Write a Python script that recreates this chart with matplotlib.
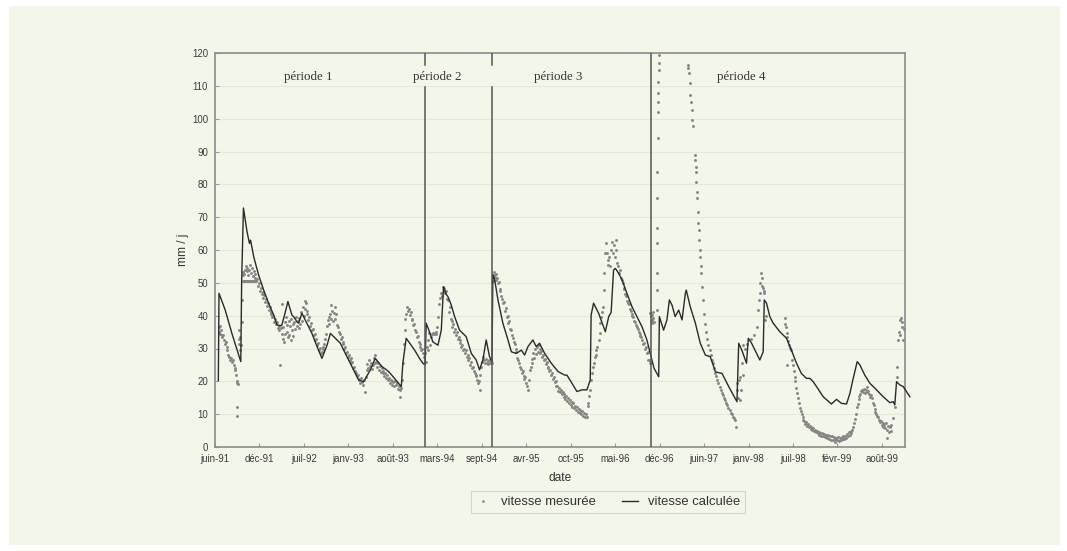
import matplotlib.pyplot as plt
import matplotlib.patches as mpatches
import numpy as np

# jours comptés depuis le 12 juin 1991 (origine de l'axe)
debut = np.datetime64('1991-06-12')

# vitesse mesurée (jour, mm/j), par période
mesure_p1 = [
    (18, 36.6), (20, 35), (22, 37), (24, 34.5), (27, 35.6), (30, 34), (33, 33.5), (36, 34.2),
    (40, 32.5), (44, 31.5), (48, 32), (52, 30.5), (56, 29.5), (60, 28), (64, 27.4), (68, 26.6),
    (72, 27), (76, 25.8), (80, 26.4), (84, 24.9), (88, 24), (92, 23.4), (95, 21.8), (98, 20),
    (101, 19.5), (104, 19.3), (98, 12.2), (99, 9.5), (106, 33), (108, 35.6), (110, 31.5),
    (112, 33.5), (114, 29.5), (118, 31), (121, 38), (123, 44.7), (125, 50.5), (126, 52.3),
    (128, 53.2), (130, 52.8),
    (132, 50.5), (136, 50.5), (140, 50.5), (144, 50.5), (148, 50.5), (152, 50.5), (156, 50.5),
    (160, 50.5), (164, 50.5), (168, 50.6), (172, 50.5), (176, 50.5), (180, 50.6),
    (134, 54), (138, 55), (142, 53.5), (146, 54.5), (150, 52.5), (154, 53.8), (158, 55.5),
    (162, 53), (166, 54.6), (170, 52.2), (174, 53.5), (178, 51.5), (182, 52.8), (186, 50.5),
    (190, 51.2), (194, 49), (198, 49.8), (202, 47.5), (206, 48.5), (210, 46.5), (214, 47.2),
    (218, 45.5), (222, 46.2), (226, 44.2), (230, 45), (234, 43), (238, 43.8), (242, 41.8),
    (246, 42.5), (250, 40.5), (254, 41.2), (258, 39.5), (262, 40), (266, 38.2), (270, 39),
    (274, 37.5), (278, 38), (282, 36.2), (286, 37), (290, 35.5), (294, 25), (296, 36.2),
    (300, 34.5),
    (303, 43.7), (304, 33), (307, 36.5), (310, 32), (313, 38), (316, 34.5), (319, 39.5),
    (322, 35), (325, 37.2), (328, 33.5), (331, 38.5), (334, 34), (337, 36.8), (340, 32.5),
    (343, 39), (346, 35.5), (349, 37.5), (352, 33.8), (356, 38.2), (360, 36), (364, 39.5),
    (368, 37), (372, 38.5), (376, 36.2), (380, 39.2), (384, 37.5), (388, 41), (392, 38.5),
    (396, 42.5), (400, 40), (403, 44.5), (406, 42), (410, 43.8), (413, 40.5), (416, 41.5),
    (420, 38.8),
    (424, 39.5), (428, 37), (432, 37.8), (436, 35.5), (440, 36), (444, 34), (448, 34.5),
    (452, 32.5), (456, 33), (460, 31), (464, 31.8), (468, 29.5), (472, 30.2), (476, 28.5),
    (480, 29), (484, 30.5), (488, 29.8), (492, 31.5), (496, 33), (500, 34.5), (504, 36.8),
    (508, 38.6), (512, 37.5), (515, 39.6), (518, 40.5), (520, 43.2), (523, 39), (526, 41.5),
    (530, 38.5), (534, 40.8), (538, 42.5), (542, 39), (546, 40.5), (550, 37.2), (554, 36.5),
    (558, 35), (562, 34.5), (566, 33), (570, 33.5), (574, 31.5), (578, 32), (582, 30),
    (586, 30.5), (590, 28.5), (594, 29), (598, 27.5),
    (602, 28), (606, 26.5), (610, 27), (614, 25.5), (618, 25.8), (622, 24), (626, 24.5),
    (630, 23), (634, 22.5), (638, 21.5), (642, 21.8), (646, 20.5), (650, 20.8), (654, 19.5),
    (658, 21), (662, 19.8), (666, 18.8), (670, 20.5), (674, 16.9), (678, 21.3), (682, 23.5),
    (686, 25.4), (690, 24), (694, 26.4), (698, 24.8), (702, 25.6), (706, 23.8), (710, 25),
    (714, 27), (718, 25.5), (722, 28), (726, 26), (730, 24.5), (734, 25.5), (738, 23.5),
    (742, 24.6), (746, 22.8), (750, 24), (754, 22.4), (758, 23.2), (762, 21.5), (766, 22.5),
    (770, 21), (774, 21.8), (778, 20.3), (782, 21), (786, 19.5), (790, 20.5), (794, 18.8),
    (798, 20),
    (802, 19.8), (806, 18.5), (810, 20.2), (814, 18.8), (818, 19.5), (822, 17.8), (826, 18.5),
    (830, 17.3), (834, 15.2), (838, 18), (842, 20.3), (846, 25.5), (850, 31.5), (853, 35.6),
    (856, 39), (860, 40.5), (864, 42.7), (868, 41.5), (872, 42), (876, 40.2), (880, 41.2),
    (884, 38.7), (888, 39), (892, 37.2), (896, 37.6), (900, 35.5), (904, 35.1), (908, 33.5),
    (912, 33.8), (916, 32), (920, 31.5), (924, 30.5), (928, 29.5), (932, 30), (936, 28.5),
    (940, 27.5), (944, 28.5), (948, 26),
]

mesure_p2 = [
    (952, 30.6), (956, 32.5), (960, 29.5), (964, 34.6), (968, 31), (972, 33.6), (976, 34.5),
    (980, 34.6), (984, 34.5), (988, 34.6), (992, 34.5), (996, 35), (1000, 36.5), (1004, 39.7),
    (1008, 43.5), (1012, 45.5), (1016, 47), (1020, 46), (1024, 48.8), (1028, 47.5),
    (1032, 48.5), (1036, 46.8), (1040, 47.5), (1044, 45), (1048, 44.8), (1052, 41),
    (1056, 42.5), (1060, 39), (1064, 38.5), (1068, 36.5), (1072, 37.5), (1076, 35), (1080, 36),
    (1084, 34), (1088, 35), (1092, 33), (1096, 33.5), (1100, 31.6), (1104, 32.5), (1108, 30.5),
    (1112, 31), (1116, 29.5), (1120, 30), (1124, 28.5), (1128, 29.5), (1132, 27.5), (1136, 28),
    (1140, 26.5), (1144, 27), (1148, 25), (1152, 25.8), (1156, 24), (1160, 24.5), (1164, 23),
    (1168, 22.4), (1172, 21.5), (1176, 22), (1180, 20.5), (1184, 19.5), (1188, 20),
    (1190, 17.4), (1194, 22), (1198, 24.5), (1202, 26), (1206, 27.5), (1210, 26.5),
    (1214, 25.5), (1218, 26.8), (1222, 25.6), (1226, 26.2), (1230, 25.4), (1234, 26.5),
    (1238, 25.5), (1242, 26.3), (1246, 25.5),
]

mesure_p3 = [
    (1250, 50.5), (1254, 52.5), (1257, 53.4), (1260, 51.8), (1263, 52.6), (1266, 50.9),
    (1269, 51.5), (1272, 49.8), (1276, 50.2), (1280, 48), (1284, 47.5), (1288, 46),
    (1292, 45.2), (1296, 43.8), (1300, 44.2), (1304, 41.5), (1308, 42.2), (1312, 39.5),
    (1316, 40), (1320, 37.7), (1324, 38.3), (1328, 36), (1332, 35.5), (1336, 34), (1340, 33.2),
    (1344, 32), (1348, 31.5), (1352, 30), (1356, 28.8), (1360, 27), (1364, 26.5), (1368, 25.5),
    (1372, 24.5), (1376, 23.8), (1380, 22.5), (1384, 23), (1388, 21.5), (1392, 20.8),
    (1396, 21.2), (1400, 19.5), (1404, 18.5), (1408, 17.4), (1412, 20.5), (1416, 23.5),
    (1420, 24.5), (1424, 26.8), (1428, 25.5), (1432, 28.5), (1436, 27), (1440, 29.8),
    (1444, 28.2), (1448, 30.5), (1452, 29), (1456, 31.2), (1460, 30), (1464, 28.5),
    (1468, 29.2), (1472, 27.5), (1476, 28), (1480, 26.5), (1484, 26.8), (1488, 25.2),
    (1492, 25.8), (1496, 24), (1500, 24.5), (1504, 23), (1508, 23.5), (1512, 21.8),
    (1516, 22.4), (1520, 20.6), (1524, 21.2), (1528, 19.8), (1532, 20.2), (1536, 18.5),
    (1540, 18.5), (1544, 17.2), (1548, 18), (1552, 16.8), (1556, 17.5), (1560, 16),
    (1564, 16.8), (1568, 15.2), (1572, 16), (1576, 14.5), (1580, 15.5), (1584, 14),
    (1588, 14.8), (1592, 13.5), (1596, 14.2), (1600, 12.8), (1604, 13.8), (1608, 12.2),
    (1612, 13.3), (1616, 11.8), (1620, 12.6), (1624, 11.2), (1628, 12.2), (1632, 10.8),
    (1636, 11.6), (1640, 10.4), (1644, 11.2), (1648, 10), (1652, 11), (1656, 9.5),
    (1660, 10.5), (1664, 9.2), (1668, 10.2), (1672, 9), (1676, 12.5), (1680, 13.3),
    (1684, 15.5), (1688, 17.4), (1692, 20.4), (1696, 22.5), (1700, 24.5), (1704, 25.5),
    (1708, 27.5), (1712, 28), (1716, 29.5), (1720, 30.5), (1726, 32.5), (1730, 34.6),
    (1734, 37.7), (1738, 39.5), (1742, 41), (1746, 42.7), (1749, 47.8), (1752, 52.9),
    (1755, 59), (1758, 62), (1762, 59), (1766, 57), (1770, 55.5), (1774, 58), (1778, 55),
    (1782, 60), (1786, 62.5), (1790, 59), (1794, 61.5), (1798, 58), (1802, 63), (1806, 60),
    (1810, 56), (1814, 55), (1818, 53), (1822, 54), (1826, 51.5), (1830, 51), (1834, 49.8),
    (1838, 48.5), (1842, 48), (1846, 46.5), (1850, 46), (1854, 44.5), (1858, 44),
    (1862, 43.5), (1866, 42), (1870, 41.5), (1874, 40.5), (1878, 40), (1882, 39.5),
    (1886, 38.5), (1890, 38), (1894, 37.2), (1898, 36.5), (1902, 35.8), (1906, 35),
    (1910, 34.5), (1914, 33.8), (1918, 33.5), (1922, 32.5), (1926, 31.5), (1930, 31.8),
    (1934, 30), (1938, 30.5), (1942, 28.5), (1946, 29), (1950, 26.5), (1954, 26.5),
    (1956, 25.5),
]

mesure_p4 = [
    (1958, 40.7), (1960, 38.5), (1962, 39.8), (1964, 37.7), (1966, 40.2), (1968, 38.8),
    (1970, 41), (1972, 39.2), (1975, 38),
    (1988, 41.7), (1988, 47.8), (1988, 52.9), (1989, 62), (1989, 66.6), (1989, 75.7),
    (1990, 83.9), (1991, 94), (1992, 102.1), (1993, 105.1), (1994, 107.8), (1995, 111.3),
    (1996, 114.8), (1997, 117), (1998, 119.4),
    (2127, 116.4), (2129, 115.3), (2131, 113.8), (2135, 110.8), (2139, 107.2), (2142, 105.2),
    (2145, 102.6), (2148, 99.6), (2150, 97.8), (2158, 88.9), (2160, 87.4), (2162, 85.4),
    (2164, 83.9), (2166, 80.8), (2168, 77.8), (2170, 75.7), (2172, 71.7), (2174, 68.2),
    (2176, 66.1), (2178, 63), (2180, 60), (2182, 58), (2185, 55), (2188, 52.9), (2192, 48.8),
    (2196, 44.8), (2200, 40.5), (2205, 37.5), (2210, 35), (2215, 33), (2220, 31), (2225, 29.5),
    (2230, 28), (2235, 26.5), (2240, 25.5), (2245, 24), (2250, 22.5), (2255, 21.5),
    (2260, 20.5), (2265, 19.5), (2270, 18.2), (2275, 17.5), (2280, 16.5), (2285, 15.8),
    (2290, 15), (2295, 14.3), (2300, 13.5), (2305, 12.8), (2310, 12), (2315, 11.3),
    (2320, 10.5), (2325, 10), (2330, 9.2), (2335, 8.8), (2340, 8.2), (2345, 6.2),
    (2347, 17.3), (2350, 19.4), (2353, 15), (2356, 20.5), (2360, 14.3), (2363, 21.4),
    (2366, 17.5), (2370, 25.5), (2374, 22), (2377, 31), (2385, 30), (2395, 31.5), (2410, 33),
    (2425, 34), (2440, 36.6), (2444, 41.7), (2447, 44.8), (2450, 47), (2453, 50),
    (2456, 52.9), (2459, 49), (2462, 51.5), (2465, 48.5), (2468, 46.8), (2471, 47.5),
    (2474, 38.7), (2478, 40),
    (2563, 39.2), (2566, 37.5), (2569, 36.6), (2571, 34.6), (2572, 25), (2575, 33.5),
    (2579, 32.2), (2583, 31), (2587, 30.2), (2591, 29.5), (2595, 26.5), (2599, 25),
    (2603, 23), (2607, 21.4), (2611, 20), (2615, 18), (2619, 16.5), (2623, 15), (2627, 13.3),
    (2631, 12), (2635, 11), (2639, 10), (2643, 9.2), (2647, 8.2), (2651, 7.8), (2655, 7),
    (2659, 7.5), (2663, 6.5), (2667, 7), (2671, 6), (2675, 6.5), (2679, 5.5), (2683, 6),
    (2687, 5.2), (2691, 5.8), (2695, 4.8), (2699, 5.2), (2703, 4.5), (2707, 5), (2711, 4.2),
    (2715, 4.6), (2719, 3.8), (2723, 4.4), (2727, 3.5), (2731, 4.2), (2735, 3.3), (2739, 4),
    (2743, 3.1), (2747, 3.8), (2751, 3.5), (2755, 2.8), (2759, 3.6), (2763, 2.5),
    (2767, 3.4), (2771, 2.2), (2775, 3.2), (2779, 2), (2783, 3), (2787, 2.4), (2791, 1.6),
    (2795, 2.8), (2799, 2.2), (2803, 3), (2807, 1.8), (2811, 2.6), (2815, 2), (2819, 3),
    (2823, 2.4), (2827, 3.2), (2831, 2.5), (2835, 3.5), (2839, 2.8), (2843, 4), (2847, 3.2),
    (2851, 4.5), (2855, 3.8), (2859, 5), (2863, 4.2), (2867, 5.2), (2871, 6), (2875, 7.2),
    (2879, 8.5), (2883, 10), (2887, 12.3), (2891, 13), (2895, 14.5), (2899, 15.5),
    (2903, 16), (2907, 17), (2911, 17.4), (2915, 16.8), (2919, 17.8), (2923, 16.5),
    (2927, 17.5), (2931, 18.4), (2935, 16.8), (2939, 17), (2943, 16), (2947, 15.3),
    (2951, 15.8), (2955, 14.8), (2959, 13.3), (2963, 12.8), (2967, 11.5), (2971, 10.8),
    (2975, 10), (2979, 9.5), (2983, 9.2), (2987, 8.2), (2991, 7.5), (2995, 7.8), (2999, 6.8),
    (3003, 7.2), (3007, 6.2), (3011, 6.8), (3015, 5.8), (3019, 7.2), (3021, 2.6), (3023, 5.2),
    (3027, 6.5), (3031, 4.7), (3035, 6), (3039, 5), (3043, 6.8), (3049, 8.7), (3058, 12.3),
    (3066, 21.4), (3070, 24.5), (3073, 32.6), (3076, 35), (3080, 38.7), (3083, 34),
    (3086, 39.2), (3089, 36.5), (3092, 38), (3096, 32.6), (3100, 36),
]

# vitesse calculée (jour, mm/j)
calcul = [
    (15, 20.3), (18, 46.8), (46, 41.7), (76, 34.6), (116, 26), (120, 50.9), (128, 72.8),
    (144, 65.6), (155, 62), (160, 63), (174, 58), (196, 52.4), (219, 47.8), (241, 43.8),
    (264, 40.2), (279, 37.2), (290, 37), (300, 37), (312, 40), (328, 44.3), (346, 40.2),
    (356, 39.5), (370, 38), (376, 37.7), (391, 40.7), (400, 39.5), (436, 34.6), (459, 30.6),
    (481, 27), (504, 31), (519, 34.6), (534, 33.6), (549, 32.6), (564, 31.6), (586, 28.5),
    (616, 24.5), (646, 20.4), (669, 19.9), (699, 23.5), (721, 27), (751, 24.5), (781, 23),
    (800, 21.5), (838, 18.4), (845, 25.5), (860, 33.1), (872, 32), (898, 29.5), (920, 27),
    (935, 25.5), (945, 25), (950, 37.7), (962, 35.6), (980, 32), (1003, 31), (1018, 35.6),
    (1028, 48.8), (1040, 46.5), (1048, 45.8), (1063, 43.2), (1078, 39.7), (1100, 35.6),
    (1130, 33.6), (1153, 28.5), (1175, 26.5), (1190, 23.5), (1205, 26.5), (1220, 32.6),
    (1235, 27.5), (1246, 26), (1250, 52.5), (1258, 51), (1273, 44.8), (1295, 37.7),
    (1318, 32.6), (1333, 29), (1355, 28.5), (1378, 29.5), (1393, 28), (1408, 30.6),
    (1430, 32.6), (1445, 30.6), (1460, 31.6), (1483, 28.5), (1513, 25.5), (1543, 23),
    (1573, 21.9), (1583, 21.9), (1606, 19.4), (1628, 16.9), (1651, 17.4), (1673, 17.4),
    (1688, 20.4), (1692, 40.2), (1703, 43.8), (1726, 40.7), (1756, 35.1), (1771, 39.7),
    (1782, 41), (1793, 53.9), (1801, 54.4), (1816, 52.9), (1831, 50.9), (1853, 46.8),
    (1876, 42.7), (1898, 39.7), (1921, 36.6), (1943, 32.6), (1958, 28.5), (1975, 24),
    (1996, 21.4), (1999, 39.7), (2018, 35.6), (2033, 38.7), (2044, 44.8), (2056, 43.2),
    (2070, 39.7), (2086, 41.7), (2101, 38.7), (2116, 46.8), (2120, 47.8), (2138, 42.7),
    (2161, 37.7), (2183, 31.6), (2206, 28), (2228, 27.5), (2251, 22.9), (2281, 22.4),
    (2311, 18.4), (2348, 13.8), (2356, 31.6), (2370, 29.5), (2391, 25.5), (2399, 33.1),
    (2414, 31.6), (2451, 26.5), (2466, 29), (2471, 44.8), (2481, 43.8), (2496, 39.7),
    (2511, 37.7), (2541, 35.1), (2571, 33.1), (2593, 29.5), (2616, 25.5), (2638, 22.4),
    (2661, 20.9), (2676, 20.9), (2691, 19.9), (2706, 18.4), (2736, 15.3), (2773, 13.1),
    (2796, 14.5), (2818, 13.3), (2841, 13.1), (2856, 16.3), (2871, 20.9), (2889, 26),
    (2901, 25), (2923, 21.9), (2946, 19.4), (2976, 17.4), (3006, 15.3), (3036, 13.5),
    (3051, 13.8), (3058, 12.8), (3066, 19.9), (3081, 18.9), (3096, 18.4), (3126, 15.3),
]

# limites des périodes (jour) et étiquettes
limites = [945, 1246, 1961]
periodes = ['période 1', 'période 2', 'période 3', 'période 4']
periodes_x = [418, 999, 1543, 2366]

# graduations de l'axe des dates : une tous les 200 jours
ticks_jours = [0, 200, 400, 600, 800, 1000, 1200, 1400, 1600, 1800, 2000, 2200, 2400, 2600,
               2800, 3000]
ticks_labels = ['juin-91', 'déc-91', 'juil-92', 'janv-93', 'août-93', 'mars-94', 'sept-94',
                'avr-95', 'oct-95', 'mai-96', 'déc-96', 'juin-97', 'janv-98', 'juil-98',
                'févr-99', 'août-99']

fond = '#f3f7ea'

mes = np.array(mesure_p1 + mesure_p2 + mesure_p3 + mesure_p4)
cal = np.array(calcul)
mes_dates = debut + mes[:, 0].astype(int).astype('timedelta64[D]')
cal_dates = debut + cal[:, 0].astype(int).astype('timedelta64[D]')

fig = plt.figure(figsize=(10.67, 5.51), dpi=100, facecolor='white')
fig.patches.append(mpatches.Rectangle((9 / 1067, 1 - 545 / 551), 1051 / 1067, 539 / 551,
                                      transform=fig.transFigure, facecolor=fond,
                                      edgecolor='none', zorder=-10))
ax = fig.add_axes([215 / 1067, 1 - 447 / 551, 690 / 1067, 394 / 551])
ax.set_facecolor(fond)

ax.plot(mes_dates, mes[:, 1], linestyle='none', marker='o', ms=2.1, mew=0,
        color='#858585', label='vitesse mesurée', zorder=2)
ax.plot(cal_dates, cal[:, 1], color='#2a2a2a', lw=1.0, label='vitesse calculée',
        zorder=3, clip_on=False)

# lignes de séparation des périodes (coupées sous les titres 2 et 3)
for i, j in enumerate(limites):
    d = debut + np.timedelta64(j, 'D')
    if i < 2:
        ax.plot([d, d], [0, 109.6], color='#555555', lw=1.1, zorder=4)
        ax.plot([d, d], [116.4, 120], color='#555555', lw=1.1, zorder=4)
    else:
        ax.plot([d, d], [0, 120], color='#555555', lw=1.1, zorder=4)

for nom, j in zip(periodes, periodes_x):
    ax.text(debut + np.timedelta64(j, 'D'), 112.8, nom, ha='center', va='center',
            fontsize=9.3, family='Liberation Serif', color='#333333')

ax.set_xticks(debut + np.array(ticks_jours).astype('timedelta64[D]'))
ax.set_xticklabels(ticks_labels)
ax.set_xlim(debut, debut + np.timedelta64(3104, 'D'))
ax.set_ylim(0, 120)
ax.set_yticks(np.arange(0, 121, 10))

ax.grid(axis='y', color='#e4e9da', lw=0.8)
ax.set_axisbelow(True)
for s in ax.spines.values():
    s.set_color('#8c8c8c')
    s.set_linewidth(1.2)
ax.tick_params(axis='both', labelsize=6.9, colors='#9a9a9a', labelcolor='#3a3a3a',
               length=3, width=0.8, direction='in')
ax.tick_params(axis='x', pad=5)
ax.tick_params(axis='y', pad=5)
for lab in ax.get_xticklabels() + ax.get_yticklabels():
    lab.set_family('Liberation Sans')

ax.set_xlabel('date', fontsize=8.6, family='Liberation Sans', color='#333333', labelpad=6)
ax.set_ylabel('mm / j', fontsize=8.6, family='Liberation Sans', color='#333333', labelpad=2)

leg = ax.legend(loc='center', bbox_to_anchor=(608 / 1067, 1 - 502 / 551),
                bbox_transform=fig.transFigure, ncol=2, frameon=True, fancybox=False,
                prop={'family': 'Liberation Sans', 'size': 9.4}, handlelength=1.2,
                columnspacing=2.0, borderpad=0.35, handletextpad=0.8, markerscale=0.9)
leg.get_frame().set_facecolor(fond)
leg.get_frame().set_edgecolor('#cccccc')
leg.get_frame().set_linewidth(0.8)
for t in leg.get_texts():
    t.set_color('#333333')

fig.savefig('out.png', dpi=100, facecolor='white')
